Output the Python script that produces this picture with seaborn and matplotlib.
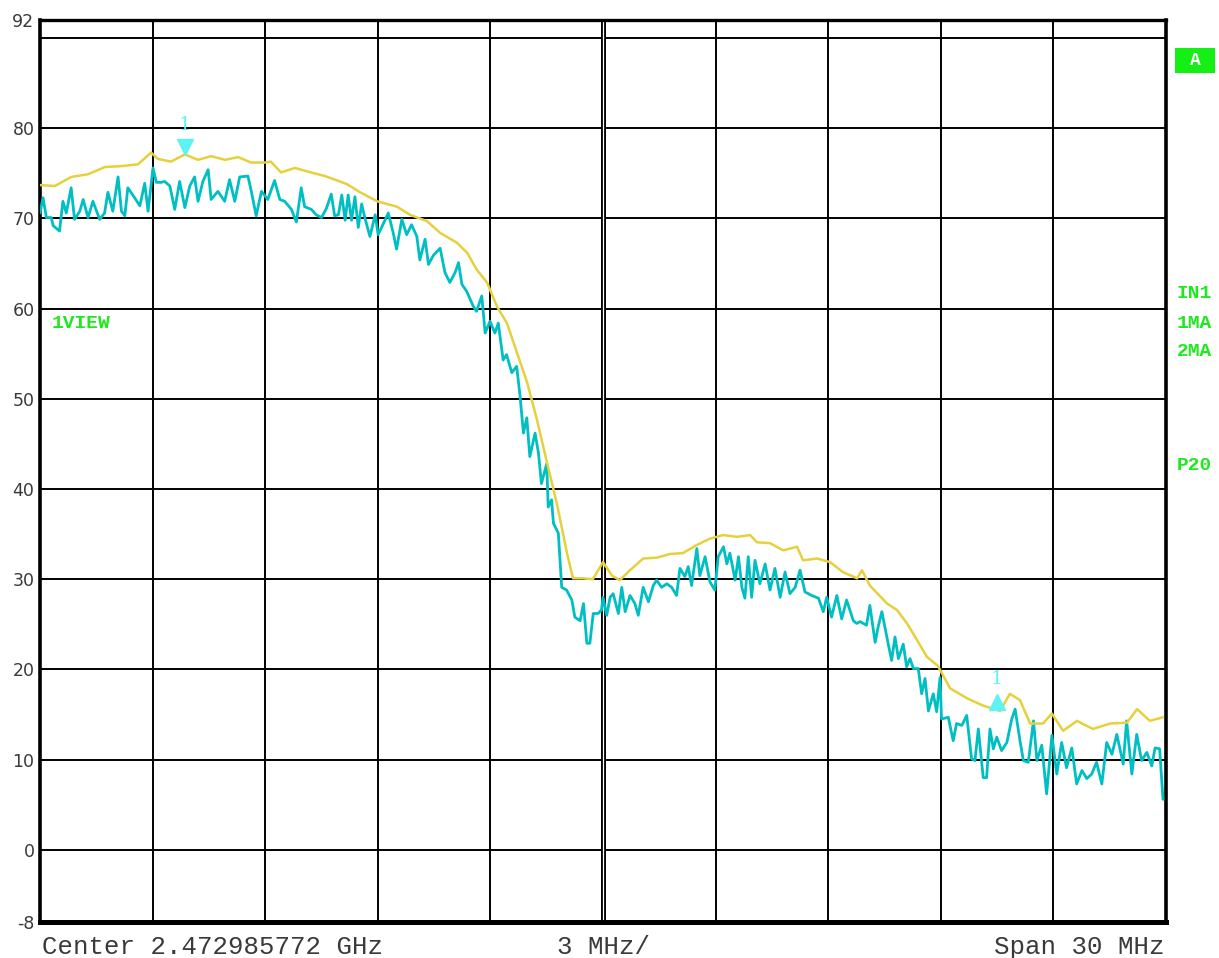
import matplotlib
matplotlib.use("Agg")
import matplotlib.pyplot as plt
from matplotlib import transforms
from matplotlib.patches import Rectangle
import pandas as pd
import seaborn as sns

# Frequency offsets from centre (MHz) and levels (dB) for the max-hold trace
maxhold_freq = [-15.00, -14.60, -14.17, -13.72, -13.27, -12.84, -12.39, -12.04, -11.86, -11.51,
                -11.14, -10.79, -10.44, -10.07, -9.72, -9.38, -9.00, -8.85, -8.58, -8.21,
                -7.78, -7.41, -7.14, -6.82, -6.47, -6.02, -5.49, -5.14, -4.69, -4.34,
                -3.89, -3.62, -3.36, -3.09, -2.82, -2.56, -2.29, -2.02, -1.76, -1.49,
                -1.23, -0.96, -0.80, -0.53, -0.27, 0.00, 0.24, 0.45, 0.72, 1.07,
                1.44, 1.79, 2.13, 2.50, 2.85, 3.20, 3.57, 3.92, 4.10, 4.45,
                4.80, 5.17, 5.33, 5.70, 6.05, 6.39, 6.77, 6.90, 7.11, 7.57,
                7.83, 8.10, 8.26, 8.63, 8.92, 9.25, 9.70, 10.12, 10.58, 10.84,
                11.11, 11.38, 11.72, 11.96, 12.26, 12.63, 13.05, 13.51, 13.96, 14.23,
                14.57, 14.92]
maxhold_level = [73.7, 73.6, 74.6, 74.9, 75.7, 75.8, 76.0, 77.3, 76.6, 76.3,
                 77.1, 76.5, 76.9, 76.5, 76.8, 76.2, 76.2, 76.3, 75.1, 75.6,
                 75.1, 74.7, 74.3, 73.8, 72.9, 71.9, 71.3, 70.4, 69.7, 68.4,
                 67.3, 66.2, 64.3, 62.9, 60.2, 58.4, 55.1, 51.8, 47.7, 42.9,
                 38.4, 32.9, 30.1, 30.1, 30.0, 31.9, 30.4, 29.9, 31.0, 32.3,
                 32.4, 32.8, 32.9, 33.8, 34.5, 34.9, 34.7, 34.9, 34.1, 34.0,
                 33.2, 33.6, 32.1, 32.3, 31.9, 30.8, 30.1, 31.0, 29.3, 27.3,
                 26.6, 25.1, 24.0, 21.4, 20.4, 17.9, 16.8, 16.0, 15.4, 17.3,
                 16.6, 14.0, 14.0, 15.1, 13.2, 14.3, 13.4, 14.0, 14.1, 15.6,
                 14.3, 14.7]

# Frequency offsets (MHz) and levels (dB) for the clear/write trace
clrwr_freq = [-15.00, -14.92, -14.83, -14.70, -14.65, -14.48, -14.39, -14.30, -14.17, -14.08,
              -13.94, -13.85, -13.72, -13.59, -13.41, -13.28, -13.19, -13.06, -12.92, -12.83,
              -12.74, -12.66, -12.48, -12.34, -12.21, -12.12, -11.99, -11.90, -11.77, -11.68,
              -11.54, -11.41, -11.28, -11.14, -11.01, -10.88, -10.79, -10.66, -10.52, -10.44,
              -10.26, -10.08, -9.95, -9.81, -9.68, -9.46, -9.37, -9.24, -9.10, -8.93,
              -8.75, -8.61, -8.48, -8.30, -8.17, -8.04, -7.95, -7.77, -7.64, -7.50,
              -7.37, -7.24, -7.15, -7.05, -6.96, -6.87, -6.79, -6.70, -6.61, -6.52,
              -6.43, -6.34, -6.21, -6.07, -5.99, -5.72, -5.59, -5.50, -5.36, -5.23,
              -5.10, -4.96, -4.88, -4.74, -4.65, -4.52, -4.34, -4.21, -4.08, -3.94,
              -3.85, -3.76, -3.63, -3.46, -3.37, -3.23, -3.14, -3.01, -2.88, -2.79,
              -2.66, -2.57, -2.43, -2.30, -2.21, -2.12, -2.03, -1.95, -1.81, -1.72,
              -1.64, -1.50, -1.46, -1.37, -1.32, -1.19, -1.10, -0.97, -0.83, -0.75,
              -0.61, -0.52, -0.43, -0.35, -0.26, -0.13, -0.04, 0.00, 0.10, 0.19,
              0.27, 0.41, 0.50, 0.59, 0.72, 0.85, 0.94, 1.07, 1.21, 1.34,
              1.43, 1.56, 1.70, 1.83, 1.96, 2.05, 2.18, 2.27, 2.36, 2.50,
              2.58, 2.72, 2.85, 2.98, 3.07, 3.21, 3.30, 3.38, 3.52, 3.61,
              3.70, 3.78, 3.87, 3.96, 4.05, 4.18, 4.32, 4.45, 4.58, 4.72,
              4.85, 4.98, 5.12, 5.25, 5.38, 5.56, 5.74, 5.87, 5.96, 6.09,
              6.23, 6.36, 6.49, 6.67, 6.76, 6.85, 7.02, 7.11, 7.25, 7.34,
              7.43, 7.60, 7.69, 7.78, 7.87, 8.00, 8.09, 8.18, 8.27, 8.40,
              8.49, 8.58, 8.67, 8.80, 8.89, 8.98, 9.02, 9.20, 9.33, 9.42,
              9.56, 9.69, 9.82, 9.91, 10.00, 10.13, 10.22, 10.31, 10.40, 10.49,
              10.62, 10.76, 10.89, 10.98, 11.11, 11.20, 11.33, 11.47, 11.56, 11.69,
              11.82, 11.96, 12.09, 12.22, 12.35, 12.49, 12.62, 12.76, 12.89, 13.02,
              13.15, 13.29, 13.42, 13.56, 13.69, 13.86, 13.95, 14.09, 14.22, 14.35,
              14.49, 14.62, 14.71, 14.83, 14.92]
clrwr_level = [70.6, 72.3, 70.1, 70.1, 69.2, 68.6, 71.9, 70.6, 73.4, 69.9,
               70.8, 72.1, 70.1, 71.9, 69.9, 70.6, 72.9, 70.8, 74.6, 70.8,
               70.3, 73.4, 72.3, 71.4, 73.9, 70.8, 75.6, 74.0, 74.0, 74.1,
               73.6, 71.0, 74.1, 71.2, 73.6, 74.6, 71.9, 74.1, 75.4, 72.1,
               73.0, 71.9, 74.3, 71.9, 74.6, 74.7, 73.0, 70.3, 73.0, 72.1,
               74.2, 72.1, 71.9, 71.0, 69.6, 73.4, 71.3, 71.0, 70.4, 70.1,
               71.1, 72.7, 70.3, 70.4, 72.6, 69.8, 72.6, 69.8, 72.4, 69.0,
               71.6, 70.0, 68.0, 70.4, 68.2, 70.6, 68.4, 66.6, 69.9, 68.2,
               69.3, 68.0, 65.4, 67.7, 64.9, 65.9, 66.7, 64.0, 62.9, 64.0,
               65.1, 62.7, 61.9, 60.3, 59.7, 61.4, 57.3, 58.6, 57.3, 58.4,
               54.3, 54.9, 52.9, 53.6, 50.3, 46.2, 47.9, 43.6, 46.2, 44.0,
               40.6, 42.8, 38.0, 38.8, 36.2, 35.1, 29.1, 28.8, 27.7, 25.8,
               25.4, 27.3, 22.9, 22.9, 26.2, 26.2, 26.6, 28.0, 26.0, 28.0,
               28.4, 26.2, 29.1, 26.4, 28.2, 27.3, 26.0, 29.1, 27.5, 29.3,
               29.9, 29.1, 29.5, 29.1, 28.2, 31.2, 30.3, 31.4, 29.3, 33.4,
               30.4, 32.5, 29.7, 28.8, 32.5, 33.6, 31.7, 32.9, 29.9, 32.5,
               29.1, 27.9, 32.5, 28.0, 32.1, 29.5, 31.7, 28.8, 31.2, 28.0,
               30.8, 28.4, 29.1, 31.0, 28.6, 28.2, 27.9, 26.4, 28.0, 25.8,
               28.2, 25.6, 27.7, 25.4, 25.1, 25.3, 24.9, 27.1, 23.0, 24.9,
               26.4, 22.8, 21.0, 23.6, 21.2, 22.8, 20.3, 21.2, 20.1, 20.1,
               17.3, 19.0, 15.4, 17.3, 15.3, 19.1, 14.5, 14.7, 12.1, 14.0,
               13.8, 14.9, 10.1, 9.9, 13.4, 8.0, 8.0, 13.4, 11.2, 12.5,
               11.0, 11.9, 14.5, 15.6, 12.1, 9.9, 9.7, 14.3, 9.9, 11.6,
               6.2, 12.7, 8.4, 11.9, 9.1, 11.3, 7.3, 8.8, 7.9, 8.4,
               9.7, 7.3, 11.9, 10.6, 12.8, 9.5, 14.3, 8.4, 12.8, 9.9,
               10.8, 9.3, 11.3, 11.2, 5.6]

# Marker 1 on each trace: (frequency offset MHz, level dB)
marker_left = (-11.14, 77.1)
marker_right = (10.50, 15.6)

y_tick_values = [-8, 0, 10, 20, 30, 40, 50, 60, 70, 80, 92]
y_tick_labels = ["-8", "0", "10", "20", "30", "40", "50", "60", "70", "80", "92"]
h_grid = [0, 10, 20, 30, 40, 50, 60, 70, 80, 90]
v_grid = [-12, -9, -6, -3, 3, 6, 9, 12]

W, H = 1219, 958
YELLOW = "#E6D03C"
CYAN = "#00BFC2"
MARKER = "#5EF2F2"
GREEN = "#1EE81E"
TEXT_GRAY = "#3A3A3A"

sns.set_style("white")
plt.rcParams["font.family"] = ["DejaVu Sans"]

fig = plt.figure(figsize=(W / 100, H / 100), dpi=100)
fig.patch.set_facecolor("white")
ax = fig.add_axes([40 / W, 36 / H, 1126 / W, 902 / H])


def fx(px):
    return px / W


def fy(py):
    return 1 - py / H


# graticule
for g in h_grid:
    ax.axhline(g, color="black", lw=1.4, zorder=1)
for g in v_grid:
    ax.axvline(g, color="black", lw=1.4, zorder=1)
ax.axvline(0, color="black", lw=3.6, zorder=1)
ax.axvline(0, color="white", lw=0.9, zorder=1.1)

clrwr = pd.DataFrame({"freq": clrwr_freq, "level": clrwr_level})
maxhold = pd.DataFrame({"freq": maxhold_freq, "level": maxhold_level})

sns.lineplot(data=clrwr, x="freq", y="level", ax=ax, color=CYAN, lw=2.0,
             estimator=None, sort=False, zorder=3)
sns.lineplot(data=maxhold, x="freq", y="level", ax=ax, color=YELLOW, lw=1.8,
             estimator=None, sort=False, zorder=4)

# marker symbols
up_shift = transforms.offset_copy(ax.transData, fig=fig, x=0, y=5, units="points")
ax.plot([marker_left[0]], [marker_left[1]], marker="v", ms=11, color=MARKER,
        mec=MARKER, transform=up_shift, zorder=5)
ax.plot([marker_right[0]], [marker_right[1]], marker="^", ms=11, color=MARKER,
        mec=MARKER, transform=up_shift, zorder=5)
ax.annotate("1", marker_left, xytext=(0, 15), textcoords="offset points",
            ha="center", va="bottom", color=MARKER, fontsize=14, family="DejaVu Serif")
ax.annotate("1", marker_right, xytext=(0, 15), textcoords="offset points",
            ha="center", va="bottom", color=MARKER, fontsize=14, family="DejaVu Serif")

ax.set_xlim(-15, 15)
ax.set_ylim(-8, 92)
ax.set_xticks([])
ax.set_yticks(y_tick_values)
ax.set_yticklabels(y_tick_labels, color=TEXT_GRAY, fontsize=12.5)
ax.tick_params(axis="y", length=0, pad=4)
ax.set_xlabel("")
ax.set_ylabel("")
for side, lw in [("left", 2.6), ("right", 2.6), ("top", 2.4), ("bottom", 3.6)]:
    ax.spines[side].set_visible(True)
    ax.spines[side].set_color("black")
    ax.spines[side].set_linewidth(lw)

mono = "Liberation Mono"
# footer annotations
fig.text(fx(42), fy(947), "Center 2.472985772 GHz", family=mono, fontsize=18.5,
         color=TEXT_GRAY, ha="left", va="center")
fig.text(fx(557), fy(947), "3 MHz/", family=mono, fontsize=18.5,
         color=TEXT_GRAY, ha="left", va="center")
fig.text(fx(1164), fy(947), "Span 30 MHz", family=mono, fontsize=18.5,
         color=TEXT_GRAY, ha="right", va="center")

# green status labels
fig.text(fx(52), fy(323), "1VIEW", family=mono, fontsize=14, weight="bold",
         color=GREEN, ha="left", va="center")
for label, y in [("IN1", 293), ("1MA", 323), ("2MA", 352), ("P20", 465)]:
    fig.text(fx(1177), fy(y), label, family=mono, fontsize=14, weight="bold",
             color=GREEN, ha="left", va="center")
fig.patches.append(Rectangle((fx(1175), fy(73)), 40 / W, 25 / H,
                             transform=fig.transFigure, facecolor="#14F014",
                             edgecolor="none"))
fig.text(fx(1195), fy(60.5), "A", family=mono, fontsize=13, weight="bold",
         color="white", ha="center", va="center")

fig.savefig("out.png", dpi=100, facecolor="white")
